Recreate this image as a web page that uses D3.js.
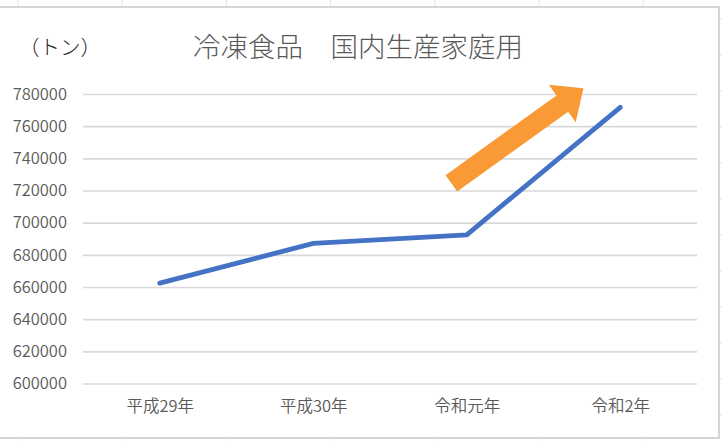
<!DOCTYPE html>
<html>
<head>
<meta charset="utf-8">
<script src="https://cdn.jsdelivr.net/npm/d3@7"></script>
<style>
  html, body { margin: 0; padding: 0; background: #fff; }
  svg { display: block; }
  text { font-family: "Noto Sans CJK JP", "Noto Sans", sans-serif; }
</style>
</head>
<body>
<div id="chart"></div>
<script>
// données
const categories = ["平成29年", "平成30年", "令和元年", "令和2年"];
const values = [662400, 687100, 692400, 771700];
const yTicks = [600000, 620000, 640000, 660000, 680000, 700000, 720000, 740000, 760000, 780000];
const title = "冷凍食品　国内生産家庭用";
const unitLabel = "（トン）";
// flèche orange : position en index de catégorie et en valeur
const arrowFrom = { i: 1.9, v: 724500 };
const arrowTo = { i: 2.76, v: 783500 };

const W = 722, H = 441;
const plot = { left: 83, right: 697, top: 94, bottom: 383.5 };

const svg = d3.select("#chart")
    .append("svg")
    .attr("width", W)
    .attr("height", H);

// quadrillage Excel autour du graphique
const sheet = svg.append("g").attr("stroke", "#e3e3e3").attr("stroke-width", 1);
d3.range(18, W, 104.2).forEach(x => {
    sheet.append("line").attr("x1", x).attr("x2", x).attr("y1", 0).attr("y2", H);
});
d3.range(19, H, 36).forEach(y => {
    sheet.append("line").attr("x1", 0).attr("x2", W).attr("y1", y).attr("y2", y);
});

// zone du graphique
svg.append("rect")
    .attr("x", -3)
    .attr("y", 7)
    .attr("width", 722)
    .attr("height", 431)
    .attr("fill", "#fff")
    .attr("stroke", "#d6d6d6")
    .attr("stroke-width", 2);

const x = d3.scalePoint()
    .domain(categories)
    .range([plot.left, plot.right])
    .padding(0.5);

const y = d3.scaleLinear()
    .domain([600000, 780000])
    .range([plot.bottom, plot.top]);

const xi = d3.scaleLinear()
    .domain([0, categories.length - 1])
    .range([x(categories[0]), x(categories[categories.length - 1])]);

// axe Y + grille
const yAxis = svg.append("g")
    .attr("transform", `translate(${plot.left},0)`)
    .call(d3.axisLeft(y).tickValues(yTicks).tickSize(-(plot.right - plot.left)).tickPadding(16).tickFormat(d3.format("d")));
yAxis.select(".domain").remove();
yAxis.selectAll(".tick line").attr("stroke", "#d9d9d9").attr("stroke-width", 1.6);
yAxis.selectAll(".tick text")
    .attr("fill", "#595959")
    .style("font-size", "16.5px")
    .style("font-weight", 350);

// axe X
const xAxis = svg.append("g")
    .attr("transform", `translate(0,${plot.bottom})`)
    .call(d3.axisBottom(x).tickSize(0).tickPadding(17));
xAxis.select(".domain").remove();
xAxis.selectAll(".tick text")
    .attr("fill", "#595959")
    .style("font-size", "16.5px")
    .style("font-weight", 350);

// ligne
const line = d3.line()
    .x((d, i) => x(categories[i]))
    .y(d => y(d));

svg.append("path")
    .datum(values)
    .attr("d", line)
    .attr("fill", "none")
    .attr("stroke", "#4472c4")
    .attr("stroke-width", 4.8)
    .attr("stroke-linejoin", "round")
    .attr("stroke-linecap", "round");

// flèche
const x0 = xi(arrowFrom.i), y0 = y(arrowFrom.v);
const x1 = xi(arrowTo.i), y1 = y(arrowTo.v);
const len = Math.hypot(x1 - x0, y1 - y0);
const shaftW = 20, headW = 46, headL = 26;
svg.append("path")
    .attr("transform", `translate(${x0},${y0}) rotate(${Math.atan2(y1 - y0, x1 - x0) * 180 / Math.PI})`)
    .attr("d", d3.line()([
        [0, -shaftW / 2], [len - headL, -shaftW / 2], [len - headL, -headW / 2],
        [len, 0],
        [len - headL, headW / 2], [len - headL, shaftW / 2], [0, shaftW / 2]
    ]) + "Z")
    .attr("fill", "#f99a36");

// titres
svg.append("text")
    .attr("x", 358)
    .attr("y", 57)
    .attr("text-anchor", "middle")
    .attr("fill", "#595959")
    .style("font-size", "27.5px")
    .style("font-weight", 300)
    .text(title);

svg.append("text")
    .attr("x", 19)
    .attr("y", 55)
    .attr("fill", "#222")
    .style("font-size", "20.5px")
    .style("font-weight", 300)
    .text(unitLabel);
</script>
</body>
</html>
